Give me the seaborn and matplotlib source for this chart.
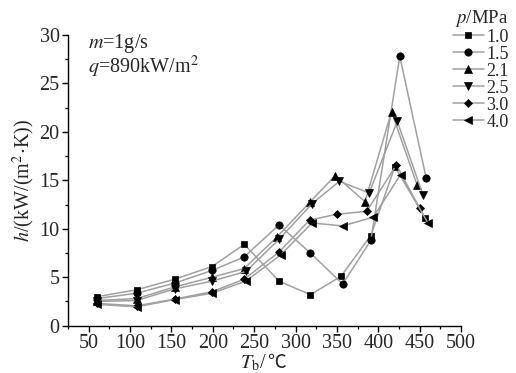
import matplotlib
matplotlib.use("Agg")
import matplotlib.pyplot as plt
from matplotlib.ticker import MultipleLocator
from matplotlib.offsetbox import TextArea, HPacker, AnchoredOffsetbox
import seaborn as sns
import pandas as pd

# ---- data ----
pressures = ["1.0", "1.5", "2.1", "2.5", "3.0", "4.0"]
T_10 = [60, 108, 154, 199, 238, 280, 318, 355, 391, 420, 457]
h_10 = [3.0, 3.7, 4.8, 6.1, 8.4, 4.6, 3.2, 5.1, 9.3, 16.4, 11.1]
T_15 = [60, 108, 154, 199, 238, 280, 318, 357, 391, 426, 458]
h_15 = [2.8, 3.35, 4.4, 5.7, 7.1, 10.4, 7.5, 4.3, 8.8, 27.8, 15.2]
T_21 = [60, 108, 154, 199, 238, 278, 318, 348, 384, 416, 447]
h_21 = [2.6, 2.8, 4.0, 5.0, 5.9, 9.2, 12.8, 15.5, 12.8, 22.1, 14.5]
T_25 = [60, 108, 154, 199, 240, 280, 320, 353, 389, 423, 454]
h_25 = [2.5, 2.6, 3.8, 4.6, 5.6, 8.9, 12.6, 14.9, 13.7, 21.1, 13.5]
T_30 = [60, 108, 154, 199, 238, 280, 317, 350, 386, 422, 450]
h_30 = [2.3, 2.05, 2.75, 3.5, 4.8, 7.6, 10.9, 11.5, 11.8, 16.6, 12.1]
T_40 = [60, 108, 154, 199, 240, 282, 320, 357, 394, 427, 460]
h_40 = [2.2, 1.95, 2.7, 3.35, 4.6, 7.3, 10.6, 10.3, 11.2, 15.6, 10.6]

series_T = [T_10, T_15, T_21, T_25, T_30, T_40]
series_h = [h_10, h_15, h_21, h_25, h_30, h_40]
markers = ["s", "o", "^", "v", "D", "<"]
msizes = [4.8, 5.3, 5.5, 5.5, 4.3, 5.5]

rows = []
for p, Ts, hs in zip(pressures, series_T, series_h):
    for t, h in zip(Ts, hs):
        rows.append({"T": t, "h": h, "p": p})
df = pd.DataFrame(rows)

sns.set_theme(style="ticks")
plt.rcParams["font.family"] = ["Liberation Serif", "Noto Sans CJK SC", "DejaVu Sans"]
plt.rcParams["mathtext.fontset"] = "stix"
plt.rcParams["font.size"] = 14.5

fig = plt.figure(figsize=(5.16, 3.73), dpi=100)
ax = fig.add_axes([68 / 516, 1 - 325.7 / 373, (461 - 68) / 516, (325.7 - 35) / 373])

gray = "#a0a0a0"
for p, mk, ms in zip(pressures, markers, msizes):
    sub = df[df["p"] == p]
    sns.lineplot(data=sub, x="T", y="h", ax=ax, color=gray, linewidth=1.1,
                 marker=mk, markersize=ms, markerfacecolor="black",
                 markeredgecolor="black", markeredgewidth=0.5,
                 label=p, sort=True)

ax.set_xlim(25, 500)
ax.set_ylim(0, 30)
ax.set_xticks(range(50, 501, 50))
ax.xaxis.set_minor_locator(MultipleLocator(25))
ax.yaxis.set_major_locator(MultipleLocator(5))
ax.yaxis.set_minor_locator(MultipleLocator(2.5))
ax.tick_params(which="major", direction="out", length=4, width=1, labelsize=14.5, pad=2, color="black")
ax.tick_params(which="minor", direction="out", length=2.5, width=0.9, color="black")
for s in ["top", "right"]:
    ax.spines[s].set_visible(False)
for s in ["left", "bottom"]:
    ax.spines[s].set_linewidth(1.0)
    ax.spines[s].set_color("black")

ax.set_xlabel("")
ax.set_ylabel(r"$h$/(kW/(m$^2\!\cdot\!$K))", fontsize=14.5, labelpad=2)

# x label: T_b/℃ built from two text pieces so the ℃ sign gets a font that has it
xl_math = TextArea(r"$T_{\rm b}$/", textprops=dict(fontsize=14.5))
xl_deg = TextArea("\u2103", textprops=dict(fontsize=13.5, family=["Noto Sans CJK SC", "DejaVu Sans"]))
xl_box = HPacker(children=[xl_math, xl_deg], align="baseline", pad=0, sep=0)
anch = AnchoredOffsetbox(loc="center", child=xl_box, pad=0, frameon=False,
                         bbox_to_anchor=(263 / 516, 1 - 363 / 373),
                         bbox_transform=fig.transFigure, borderpad=0)
fig.add_artist(anch)

ax.text(0.051, 0.955, r"$m$=1g/s", transform=ax.transAxes, fontsize=14.5, va="baseline")
ax.text(0.051, 0.868, r"$q$=890kW/m$^2$", transform=ax.transAxes, fontsize=14.5, va="baseline")

handles = ax.lines[:6]
leg = ax.legend(handles=handles, labels=pressures, title=r"$p$/MPa",
                loc="upper left", bbox_to_anchor=(451 / 516, 1 - 6 / 373),
                bbox_transform=fig.transFigure, frameon=False,
                fontsize=13, title_fontsize=13.5, handlelength=1.7,
                handletextpad=0.15, labelspacing=0.0, borderpad=0.1,
                borderaxespad=0)
leg._legend_box.align = "right"

fig.savefig("out.png", dpi=100, facecolor="white")
